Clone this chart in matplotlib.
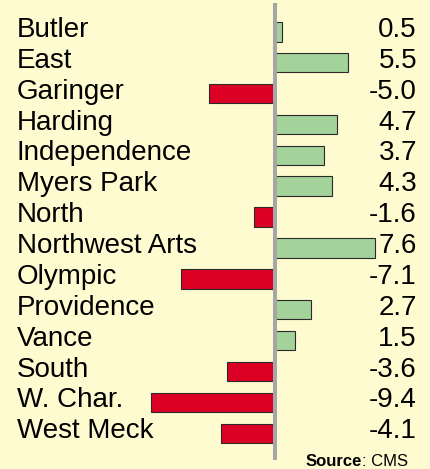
import numpy as np
import matplotlib
matplotlib.use("Agg")
import matplotlib.pyplot as plt
import matplotlib.transforms as mtransforms

plt.rcParams['font.family'] = ['Liberation Sans', 'DejaVu Sans']

schools = ["Butler", "East", "Garinger", "Harding", "Independence", "Myers Park",
           "North", "Northwest Arts", "Olympic", "Providence", "Vance", "South",
           "W. Char.", "West Meck"]
values = [0.5, 5.5, -5.0, 4.7, 3.7, 4.3, -1.6, 7.6, -7.1, 2.7, 1.5, -3.6, -9.4, -4.1]
labels = ["0.5", "5.5", "-5.0", "4.7", "3.7", "4.3", "-1.6", "7.6", "-7.1", "2.7",
          "1.5", "-3.6", "-9.4", "-4.1"]

bg = "#FFFBD0"
W, H = 431, 469
fig = plt.figure(figsize=(W / 100, H / 100), dpi=100, facecolor=bg)
ax = fig.add_axes([0, 0, 1, 1])
ax.set_facecolor(bg)

# pixel layout: zero line at x=275, ~13.2 px per unit; rows 30.88 px apart
x0, ppu = 275.0, 13.2
y0, step = 31.8, 30.88
ax.set_xlim(-x0 / ppu, (W - x0) / ppu)
ax.set_ylim((H - y0) / step, -y0 / step)
ax.axis("off")

pos = np.arange(len(schools))
vals = np.array(values)
colors = ["#A3D39A" if v > 0 else "#DC0025" for v in vals]
ax.barh(pos, vals, height=0.63, color=colors, edgecolor="#2a2a2a", linewidth=0.8, zorder=2)

ax.axvline(0, ymin=1 - 458 / H, ymax=1 - 5 / H, color="#A6A6A6", linewidth=2.9, zorder=3)

tr = mtransforms.blended_transform_factory(ax.transAxes, ax.transData)
off = 5.1 / step
for i, (name, lab) in enumerate(zip(schools, labels)):
    ax.text(17 / W, i + off, name, transform=tr, ha="left", va="baseline", fontsize=20)
    ax.text(417 / W, i + off, lab, transform=tr, ha="right", va="baseline", fontsize=20)

fig.text(362 / W, 1 - 466 / H, "Source", ha="right", va="baseline", fontsize=12, fontweight="bold")
fig.text(362 / W, 1 - 466 / H, ": CMS", ha="left", va="baseline", fontsize=12)

fig.savefig("out.png", dpi=100, facecolor=bg)
